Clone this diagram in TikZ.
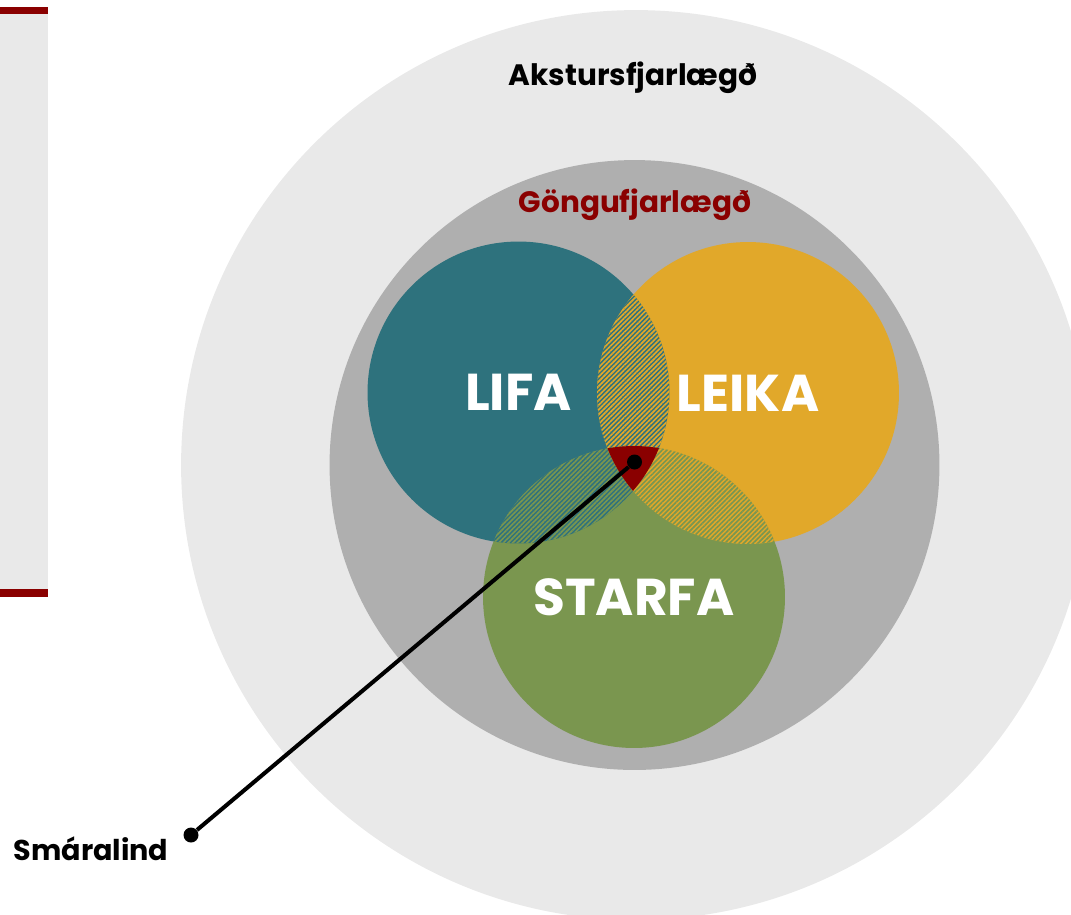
\documentclass[tikz,border=0pt]{standalone}
\usepackage{fontspec}
\setmainfont{Poppins}
\usetikzlibrary{patterns.meta}
\definecolor{lifacol}{HTML}{2E727D}
\definecolor{leikacol}{HTML}{E1A82A}
\definecolor{starfacol}{HTML}{7A964F}
\definecolor{darkred}{HTML}{8A0000}
\definecolor{farcol}{HTML}{E9E9E9}
\definecolor{nearcol}{HTML}{AFAFAF}
\tikzset{
  ring/.style={circle, inner sep=0pt, minimum size=6.04cm, text=white,
    font=\fontsize{29.5}{31}\selectfont\bfseries},
  hatch/.style={pattern={Lines[angle=45,distance=1.9pt,line width=0.95pt]}},
  dot/.style={circle, fill=black, inner sep=0pt, minimum size=0.3cm},
  label/.style={font=\fontsize{16.8}{18}\selectfont\bfseries}
}
\begin{document}
\begin{tikzpicture}[x=0.02cm,y=-0.02cm]
    \useasboundingbox (0,0) rectangle (1071,914);
    \clip (0,0) rectangle (1071,914);
    % side bar
    \fill[farcol] (0,8) rectangle (48,596);
    \fill[darkred] (0,7) rectangle (48,14);
    \fill[darkred] (0,589) rectangle (48,597);
    % distance rings
    \fill[farcol] (636,465) circle (9.1cm);
    \fill[nearcol] (634.5,465) circle (6.1cm);
    \node[label] (akstur) at (633,78) {Akstursfjarlægð};
    \node[label, text=darkred] (ganga) at (635,205) {Göngufjarlægð};
    % the three circles
    \node[ring, fill=lifacol] (lifa) at (518.5,392.5) {LIFA};
    \node[ring, fill=leikacol] (leika) at (748,393) {LEIKA};
    \node[ring, fill=starfacol] (starfa) at (634,597) {STARFA};
    \begin{scope}
        \clip (lifa.center) circle (3.02cm);
        \fill[lifacol] (leika.center) circle (3.02cm);
        \fill[hatch, pattern color=leikacol] (leika.center) circle (3.02cm);
    \end{scope}
    \begin{scope}
        \clip (lifa.center) circle (3.02cm);
        \fill[lifacol] (starfa.center) circle (3.02cm);
        \fill[hatch, pattern color=starfacol] (starfa.center) circle (3.02cm);
    \end{scope}
    \begin{scope}
        \clip (leika.center) circle (3.02cm);
        \fill[leikacol] (starfa.center) circle (3.02cm);
        \fill[hatch, pattern color=starfacol] (starfa.center) circle (3.02cm);
    \end{scope}
    \begin{scope}
        \clip (lifa.center) circle (3.02cm);
        \clip (leika.center) circle (3.02cm);
        \fill[darkred] (starfa.center) circle (3.02cm);
    \end{scope}
    % location
    \node[dot] (core) at (634.5,462) {};
    \node[dot] (mall) at (191,835) {};
    \draw[line width=2.3pt] (core) -- (mall);
    \node[label, font=\fontsize{16.3}{18}\selectfont\bfseries] (smara) at (91,849) {Smáralind};
\end{tikzpicture}
\end{document}
